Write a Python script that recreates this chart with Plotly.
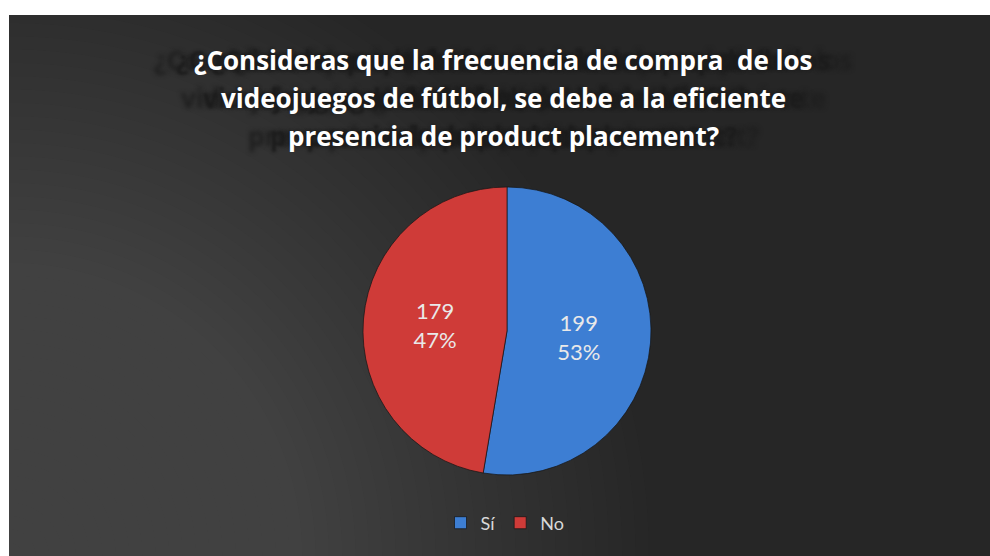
import plotly.graph_objects as go

# Survey answers
labels = ["Sí", "No"]
values = [199, 179]
colors = ["#3d7ed3", "#cf3b38"]

title_lines = [
    "¿Consideras que la frecuencia de compra  de los",
    "videojuegos de fútbol, se debe a la eficiente",
    "presencia de product placement?",
]

W, H = 990, 556
LEFT, TOP = 9, 15          # white strip around the dark card
CARD_W, CARD_H = W - LEFT, H - TOP

fig = go.Figure()

# empty trace so the pixel-scaled background axes exist
fig.add_trace(go.Scatter(x=[], y=[], showlegend=False, hoverinfo="skip"))

fig.add_trace(go.Pie(
    labels=labels,
    values=values,
    sort=False,
    direction="clockwise",
    rotation=0,
    marker=dict(colors=colors, line=dict(color="rgba(20,20,20,0.7)", width=1)),
    texttemplate="%{value}<br>%{percent:.0%}",
    textposition="inside",
    insidetextorientation="horizontal",
    textfont=dict(family="Lato", size=22, color="#e9e9e9"),
    domain=dict(x=[(507 - 144) / W, (507 + 144) / W],
                y=[(H - 331 - 144) / H, (H - 331 + 144) / H]),
    hoverinfo="label+value+percent",
))

# soft light glow spreading from the lower-left corner of the card
shapes = []
n_rings = 48
max_r = 640
for k in range(n_rings, 0, -1):
    r = max_r * k / n_rings
    shapes.append(dict(
        type="circle", xref="x", yref="y", layer="below",
        x0=LEFT - r, x1=LEFT + r, y0=-r, y1=r,
        fillcolor="rgba(140,140,140,0.0165)", line=dict(width=0),
    ))

# title lines with a dim, spread-out echo behind them
annotations = []
line_y = [60, 98, 136]
echo = ("-18px 0px 3px #1c1c1c, 18px 0px 3px #1c1c1c, "
        "-40px 0px 4px #1f1f1f, 40px 0px 4px #1f1f1f")
for txt, yy in zip(title_lines, line_y):
    annotations.append(dict(
        text="<b>" + txt + "</b>", xref="paper", yref="paper",
        x=504 / W, y=1 - yy / H, xanchor="center", yanchor="middle",
        showarrow=False,
        font=dict(family="Open Sans", size=26, color="#ffffff", shadow=echo),
    ))

fig.update_layout(
    width=W, height=H,
    margin=dict(l=0, r=0, t=0, b=0),
    paper_bgcolor="#ffffff",
    plot_bgcolor="#262626",
    xaxis=dict(domain=[LEFT / W, 1], range=[LEFT, W], visible=False,
               showgrid=False, zeroline=False, fixedrange=True),
    yaxis=dict(domain=[0, CARD_H / H], range=[0, CARD_H], visible=False,
               showgrid=False, zeroline=False, fixedrange=True),
    shapes=shapes,
    annotations=annotations,
    showlegend=True,
    legend=dict(
        orientation="h", x=505 / W, xanchor="center",
        y=1 - 523 / H, yanchor="middle",
        font=dict(family="Lato", size=18, color="#d9d9d9"),
        bgcolor="rgba(0,0,0,0)", itemclick=False, itemwidth=30,
    ),
)

fig.write_html("out.html")
